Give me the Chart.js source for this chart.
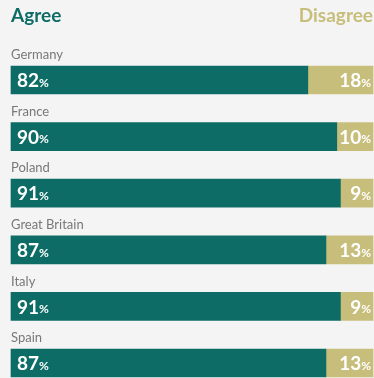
<!DOCTYPE html>
<html>
<head>
<meta charset="utf-8">
<script src="https://cdn.jsdelivr.net/npm/chart.js@4/dist/chart.umd.min.js"></script>
<style>
  html, body { margin: 0; padding: 0; background: #f4f4f4; }
  #wrap { width: 374px; height: 378px; }
</style>
</head>
<body>
<div id="wrap"><canvas id="pollChart" width="374" height="378"></canvas></div>
<script>
// Survey shares per country, agree vs disagree
const countries = ['Germany', 'France', 'Poland', 'Great Britain', 'Italy', 'Spain'];
const agree = [82, 90, 91, 87, 91, 87];
const disagree = [18, 10, 9, 13, 9, 13];

const TEAL = '#0e6c66';
const TAN = '#c8be7c';
const FONT = 'Lato, "Open Sans", sans-serif';

// country names above bars, percentages inside bars, column headers on top
const labelPlugin = {
  id: 'barLabels',
  afterDatasetsDraw(chart) {
    const ctx = chart.ctx;
    const area = chart.chartArea;
    ctx.save();

    ctx.textBaseline = 'middle';
    ctx.font = 'bold 19px ' + FONT;
    ctx.fillStyle = TEAL;
    ctx.textAlign = 'left';
    ctx.fillText('Agree', area.left, 16);
    ctx.fillStyle = TAN;
    ctx.textAlign = 'right';
    ctx.fillText('Disagree', area.right, 16);

    const agreeMeta = chart.getDatasetMeta(0);
    const disMeta = chart.getDatasetMeta(1);

    agreeMeta.data.forEach((bar, i) => {
      const y = bar.y;
      ctx.font = '13px ' + FONT;
      ctx.fillStyle = '#787878';
      ctx.textAlign = 'left';
      ctx.fillText(countries[i], area.left, y - 25);

      drawPct(ctx, agree[i], bar.base + 6, y + 1, 'left');
      drawPct(ctx, disagree[i], disMeta.data[i].x - 2, y + 1, 'right');
    });
    ctx.restore();
  }
};

function drawPct(ctx, value, x, y, align) {
  const num = String(value);
  ctx.fillStyle = '#ffffff';
  ctx.textAlign = 'left';
  ctx.font = 'bold 19px ' + FONT;
  const wNum = ctx.measureText(num).width;
  ctx.font = 'bold 12px ' + FONT;
  const wPct = ctx.measureText('%').width;
  const start = align === 'left' ? x : x - wNum - wPct;
  ctx.font = 'bold 19px ' + FONT;
  ctx.fillText(num, start, y);
  ctx.font = 'bold 12px ' + FONT;
  ctx.fillText('%', start + wNum, y + 2);
}

new Chart(document.getElementById('pollChart'), {
  type: 'bar',
  data: {
    labels: countries,
    datasets: [
      { label: 'Agree', data: agree, backgroundColor: TEAL, barThickness: 28, clip: false },
      { label: 'Disagree', data: disagree, backgroundColor: TAN, barThickness: 28, clip: false }
    ]
  },
  options: {
    indexAxis: 'y',
    responsive: false,
    animation: false,
    layout: { padding: { left: 11, right: 1, top: 80, bottom: 15 } },
    plugins: { legend: { display: false }, tooltip: { enabled: false } },
    scales: {
      x: { stacked: true, min: 0, max: 100, display: false },
      y: { stacked: true, offset: false, display: false }
    }
  },
  plugins: [labelPlugin]
});
</script>
</body>
</html>
